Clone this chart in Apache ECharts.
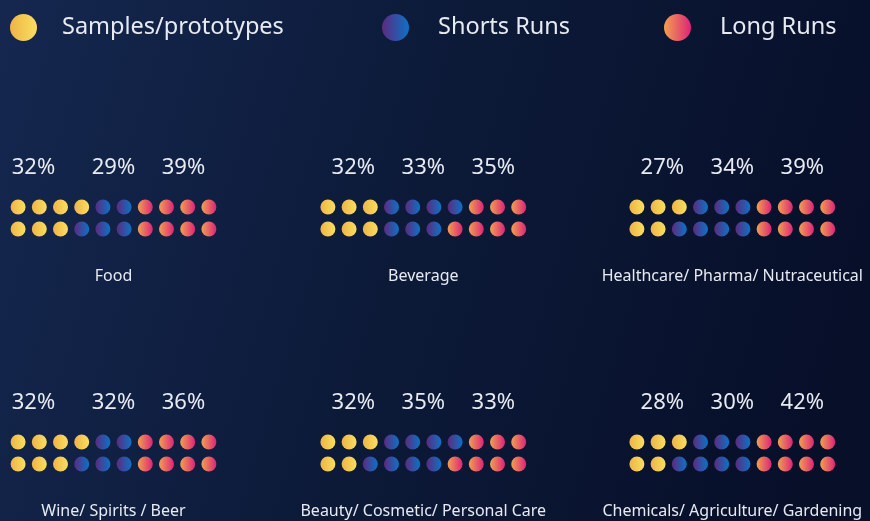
<!DOCTYPE html>
<html>
<head>
<meta charset="utf-8">
<script src="https://cdn.jsdelivr.net/npm/echarts@6/dist/echarts.min.js"></script>
<style>
	html, body { margin: 0; padding: 0; }
	#main { width: 870px; height: 521px; }
</style>
</head>
<body>
<div id="main"></div>
<script>
var categories = ['Food', 'Beverage', 'Healthcare/ Pharma/ Nutraceutical', 'Wine/ Spirits / Beer', 'Beauty/ Cosmetic/ Personal Care', 'Chemicals/ Agriculture/ Gardening'];
var seriesNames = ['Samples/prototypes', 'Shorts Runs', 'Long Runs'];
var samplesPct = [32, 32, 27, 32, 32, 28];
var shortsPct = [29, 33, 34, 32, 35, 30];
var longPct = [39, 35, 39, 36, 33, 42];
// dots in [top row, bottom row] for each panel
var samplesDots = [[4, 3], [3, 3], [3, 2], [4, 3], [3, 2], [3, 2]];
var shortsDots = [[2, 3], [4, 3], [3, 4], [2, 3], [4, 4], [3, 4]];
var longDots = [[4, 4], [3, 4], [4, 4], [4, 4], [3, 4], [4, 4]];

var pcts = [samplesPct, shortsPct, longPct];
var dots = [samplesDots, shortsDots, longDots];

function grad(a, b) {
	return new echarts.graphic.LinearGradient(0, 0, 1, 0, [
		{ offset: 0, color: a },
		{ offset: 1, color: b }
	]);
}
var colors = [
	grad('#eeb446', '#f9df60'),
	grad('#5c2a7f', '#0c72c6'),
	grad('#f2a050', '#dc2478')
];

var textColor = '#e8eaf2';
var font = 'Noto Sans';
var colX = [113.5, 423.3, 732.3];
var rowY = [207, 442];
var step = 21.2;
var pctOffsets = [[-80, 0, 70], [-70, 0, 70], [-70, 0, 70]];

var myChart = echarts.init(document.getElementById('main'));

var grids = [], xAxes = [], yAxes = [], series = [], graphics = [];
for (var p = 0; p < categories.length; p++) {
	var col = p % 3, row = Math.floor(p / 3);
	var cx = colX[col], cy = rowY[row];
	grids.push({ left: cx - step * 5, top: cy, width: step * 10, height: 22 });
	xAxes.push({ type: 'value', gridIndex: p, min: -0.5, max: 9.5, show: false });
	yAxes.push({ type: 'value', gridIndex: p, min: 0, max: 1, inverse: true, show: false });
	var offs = [0, 0];
	for (var s = 0; s < 3; s++) {
		var d = [];
		for (var r = 0; r < 2; r++) {
			for (var k = 0; k < dots[s][p][r]; k++) d.push([offs[r] + k, r]);
			offs[r] += dots[s][p][r];
		}
		series.push({
			name: seriesNames[s],
			type: 'scatter',
			xAxisIndex: p,
			yAxisIndex: p,
			symbol: 'circle',
			symbolSize: 15,
			itemStyle: { color: colors[s], opacity: 1 },
			data: d
		});
		graphics.push({
			type: 'text',
			x: cx + pctOffsets[col][s],
			y: cy - 39,
			style: {
				text: pcts[s][p] + '%',
				fill: textColor,
				font: '22px "' + font + '"',
				textAlign: 'center',
				textVerticalAlign: 'middle'
			}
		});
	}
	graphics.push({
		type: 'text',
		x: cx,
		y: cy + 69.5,
		style: {
			text: categories[p],
			fill: textColor,
			font: '16px "' + font + '"',
			textAlign: 'center',
			textVerticalAlign: 'middle'
		}
	});
}

var legendLefts = [5, 377, 659];
var legendPads = [20, 24, 24];
var legends = seriesNames.map(function(n, i) {
	return {
		data: [n],
		left: legendLefts[i],
		top: 9,
		itemWidth: 27,
		itemHeight: 27,
		icon: 'circle',
		selectedMode: false,
		textStyle: {
			color: textColor,
			fontSize: 23.5,
			fontFamily: font,
			padding: [0, 0, 0, legendPads[i]]
		}
	};
});

var option = {
	animation: false,
	backgroundColor: new echarts.graphic.LinearGradient(0, 0, 1, 0.5, [
		{ offset: 0, color: '#15274f' },
		{ offset: 0.5, color: '#0c1a38' },
		{ offset: 1, color: '#070f29' }
	]),
	legend: legends,
	grid: grids,
	xAxis: xAxes,
	yAxis: yAxes,
	series: series,
	graphic: graphics
};
myChart.setOption(option);
</script>
</body>
</html>
